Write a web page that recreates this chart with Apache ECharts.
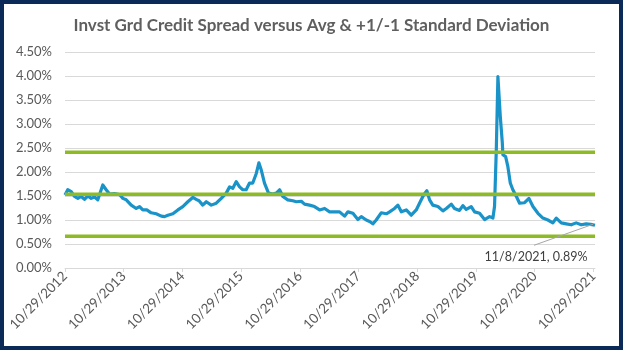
<!DOCTYPE html>
<html>
<head>
<meta charset="utf-8">
<script src="https://cdn.jsdelivr.net/npm/echarts@6/dist/echarts.min.js"></script>
<style>
  html, body { margin: 0; padding: 0; background: #ffffff; }
  #wrap { position: relative; width: 623px; height: 350px; }
  #chart { position: absolute; left: 0; top: 0; width: 623px; height: 350px; }
  #frame { position: absolute; left: 0; top: 0; width: 623px; height: 350px;
           box-sizing: border-box; border: 4px solid #0c2a57; pointer-events: none; }
</style>
</head>
<body>
<div id="wrap"><div id="chart"></div><div id="frame"></div></div>
<script>
// Investment-grade credit spread (OAS, %) sampled through the period
const spreadDates = [
  '2012-10-29','2012-11-15','2012-12-07','2012-12-27','2013-01-17','2013-02-07','2013-02-27','2013-03-20',
  '2013-04-10','2013-05-01','2013-05-21','2013-06-11','2013-06-21','2013-07-12','2013-08-02','2013-09-02',
  '2013-10-03','2013-10-24','2013-11-14','2013-12-15','2014-01-15','2014-02-05','2014-02-25','2014-03-22',
  '2014-04-18','2014-05-19','2014-06-20','2014-07-10','2014-07-31','2014-08-31','2014-10-01','2014-11-01',
  '2014-12-02','2015-01-02','2015-01-23','2015-02-10','2015-03-05','2015-03-27','2015-04-27','2015-05-28',
  '2015-06-28','2015-07-29','2015-08-19','2015-09-08','2015-09-29','2015-10-20','2015-11-09','2015-11-30',
  '2015-12-21','2016-01-10','2016-02-01','2016-02-17','2016-03-03','2016-03-23','2016-04-17','2016-05-14',
  '2016-06-04','2016-06-25','2016-07-15','2016-08-15','2016-09-15','2016-10-07','2016-11-07','2016-11-27',
  '2016-12-28','2017-01-28','2017-03-01','2017-04-01','2017-05-02','2017-06-02','2017-07-03','2017-08-03',
  '2017-08-24','2017-09-24','2017-10-25','2017-11-15','2017-12-16','2018-01-06','2018-01-26','2018-02-16',
  '2018-03-19','2018-04-20','2018-05-10','2018-06-10','2018-07-01','2018-07-22','2018-08-22','2018-09-22',
  '2018-10-23','2018-11-17','2018-12-08','2018-12-28','2019-01-14','2019-02-03','2019-03-07','2019-04-07',
  '2019-04-28','2019-05-29','2019-06-18','2019-07-19','2019-08-09','2019-08-30','2019-09-30','2019-10-21',
  '2019-11-21','2019-12-22','2020-01-22','2020-02-12','2020-02-22','2020-03-04','2020-03-14','2020-03-23',
  '2020-03-29','2020-04-04','2020-04-10','2020-04-14','2020-05-01','2020-05-15','2020-05-30','2020-06-15',
  '2020-07-07','2020-07-27','2020-08-27','2020-09-23','2020-10-18','2020-11-18','2020-12-19','2021-01-19',
  '2021-02-19','2021-03-12','2021-04-12','2021-05-13','2021-06-13','2021-07-14','2021-08-14','2021-09-14',
  '2021-10-12','2021-11-08'
];
const spreadValues = [
  1.52, 1.63, 1.59, 1.49, 1.45, 1.49, 1.43, 1.50,
  1.45, 1.48, 1.42, 1.63, 1.73, 1.63, 1.54, 1.55,
  1.53, 1.45, 1.42, 1.31, 1.24, 1.28, 1.21, 1.21,
  1.15, 1.13, 1.08, 1.07, 1.10, 1.13, 1.21, 1.28,
  1.38, 1.47, 1.43, 1.40, 1.31, 1.38, 1.31, 1.35,
  1.45, 1.56, 1.69, 1.66, 1.80, 1.69, 1.63, 1.63,
  1.77, 1.77, 1.97, 2.19, 2.04, 1.77, 1.56, 1.54,
  1.56, 1.63, 1.49, 1.42, 1.40, 1.38, 1.39, 1.33,
  1.31, 1.28, 1.21, 1.24, 1.17, 1.17, 1.17, 1.08,
  1.17, 1.14, 1.01, 1.07, 1.00, 0.97, 0.92, 1.00,
  1.15, 1.13, 1.17, 1.24, 1.31, 1.17, 1.21, 1.10,
  1.21, 1.38, 1.52, 1.61, 1.42, 1.31, 1.28, 1.19,
  1.24, 1.33, 1.24, 1.20, 1.30, 1.22, 1.28, 1.17,
  1.14, 1.01, 1.07, 1.04, 1.28, 2.46, 3.99, 4.02,
  3.15, 3.12, 2.63, 2.36, 2.32, 2.11, 1.77, 1.63,
  1.49, 1.35, 1.36, 1.45, 1.28, 1.14, 1.04, 1.00,
  0.94, 1.04, 0.94, 0.92, 0.90, 0.94, 0.90, 0.92,
  0.91, 0.89
];

// Long-run average and one standard deviation either side (%)
const avgSpread = 1.535;
const plusOneSd = 2.41;
const minusOneSd = 0.66;

// Axis range and yearly tick dates
const axisStart = '2012-10-29';
const axisEnd = '2021-11-08';
const tickDates = ['2012-10-29','2013-10-29','2014-10-29','2015-10-29','2016-10-29',
                   '2017-10-29','2018-10-29','2019-10-29','2020-10-29','2021-10-29'];

const titleText = 'Invst Grd Credit Spread versus Avg & +1/-1 Standard Deviation';

function toTime(s) {
  const p = s.split('-').map(Number);
  return Date.UTC(p[0], p[1] - 1, p[2]);
}
function fmtDate(t) {
  const d = new Date(t);
  return (d.getUTCMonth() + 1) + '/' + d.getUTCDate() + '/' + d.getUTCFullYear();
}

const spreadData = spreadDates.map((d, i) => [toTime(d), spreadValues[i]]);
const lastIdx = spreadData.length - 1;
const lastLabel = fmtDate(spreadData[lastIdx][0]) + ', ' + spreadValues[lastIdx].toFixed(2) + '%';
const tickTimes = tickDates.map(toTime);

function flatLine(v) {
  return [[toTime(axisStart), v], [toTime(axisEnd), v]];
}

const FONT = 'Lato';
const GREEN = '#8dbb25';
const chart = echarts.init(document.getElementById('chart'), null, { renderer: 'canvas' });

chart.setOption({
  animation: false,
  backgroundColor: '#ffffff',
  title: {
    text: titleText,
    left: 'center',
    top: 12,
    textStyle: { fontFamily: FONT, fontWeight: 'bold', fontSize: 17, color: '#5f5f5f' }
  },
  grid: { left: 65, right: 28, top: 52, bottom: 82, containLabel: false },
  xAxis: {
    type: 'value',
    min: toTime(axisStart),
    max: toTime(axisEnd),
    splitLine: { show: false },
    axisLine: { show: true, lineStyle: { color: '#d9d9d9', width: 1 } },
    axisTick: {
      show: true, length: 4, inside: false,
      customValues: tickTimes,
      lineStyle: { color: '#d9d9d9' }
    },
    axisLabel: {
      customValues: tickTimes,
      rotate: 45,
      margin: 6,
      fontFamily: FONT, fontSize: 13.5, color: '#595959',
      formatter: (v) => fmtDate(v),
      showMinLabel: true, showMaxLabel: true
    }
  },
  yAxis: {
    type: 'value',
    min: 0, max: 4.5, interval: 0.5,
    axisLine: { show: false },
    axisTick: { show: false },
    splitLine: { show: true, lineStyle: { color: '#d9d9d9', width: 1 } },
    axisLabel: {
      margin: 13,
      fontFamily: FONT, fontSize: 13, color: '#595959',
      formatter: (v) => v.toFixed(2) + '%'
    }
  },
  series: [
    {
      name: 'Spread', type: 'line', data: spreadData,
      showSymbol: false, symbol: 'none',
      lineStyle: { color: '#1a93c9', width: 3.2, join: 'round' },
      z: 2
    },
    { name: 'Average', type: 'line', data: flatLine(avgSpread), symbol: 'none',
      lineStyle: { color: GREEN, width: 3.5 }, z: 3 },
    { name: '+1 SD', type: 'line', data: flatLine(plusOneSd), symbol: 'none',
      lineStyle: { color: GREEN, width: 3.5 }, z: 3 },
    { name: '-1 SD', type: 'line', data: flatLine(minusOneSd), symbol: 'none',
      lineStyle: { color: GREEN, width: 3.5 }, z: 3 }
  ]
});

// Callout for the latest reading, anchored on the last data point
const anchor = chart.convertToPixel({ xAxisIndex: 0, yAxisIndex: 0 }, spreadData[lastIdx]);
chart.setOption({
  graphic: [
    {
      type: 'line', silent: true, z: 10,
      shape: { x1: anchor[0] - 2, y1: anchor[1] - 1, x2: anchor[0] - 61, y2: anchor[1] + 20 },
      style: { stroke: '#a6a6a6', lineWidth: 1 }
    },
    {
      type: 'text', silent: true, z: 10,
      x: anchor[0] - 59, y: anchor[1] + 32,
      style: {
        text: lastLabel, align: 'center', verticalAlign: 'middle',
        fontFamily: FONT, fontSize: 12.5, fill: '#404040'
      }
    }
  ]
});
</script>
</body>
</html>
